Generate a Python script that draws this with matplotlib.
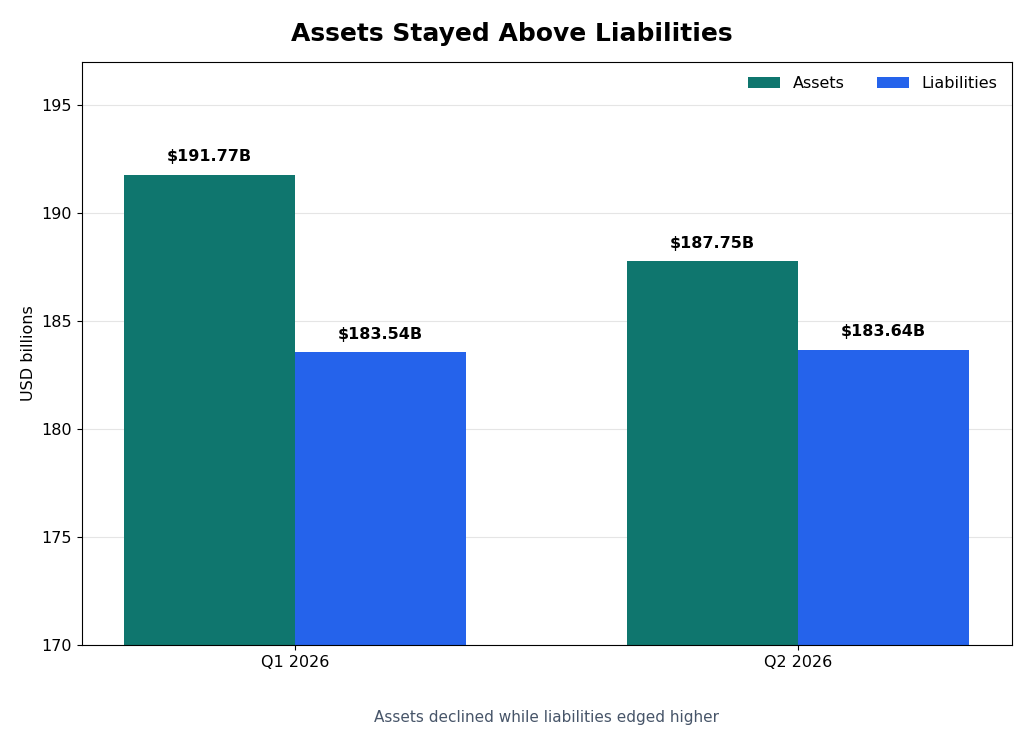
import matplotlib.pyplot as plt
import numpy as np

quarters = ["Q1 2026", "Q2 2026"]
assets = [191.77, 187.75]
liabilities = [183.54, 183.64]

fig = plt.figure(figsize=(10.24, 7.43), dpi=100)
ax = fig.add_axes([0.080, 0.132, 0.908, 0.785])

x = np.arange(len(quarters))
w = 0.34
b1 = ax.bar(x - w / 2, assets, w, color="#0F766E", label="Assets", zorder=2)
b2 = ax.bar(x + w / 2, liabilities, w, color="#2563EB", label="Liabilities", zorder=2)

for bars in (b1, b2):
    for r in bars:
        ax.text(r.get_x() + r.get_width() / 2, r.get_height() + 0.5,
                f"${r.get_height():.2f}B", ha="center", va="bottom",
                fontsize=11.5, fontweight="bold")

ax.set_ylim(170, 197)
ax.set_xlim(-0.423, 1.425)
ax.set_yticks([170, 175, 180, 185, 190, 195])
ax.set_xticks(x)
ax.set_xticklabels(quarters)
ax.tick_params(labelsize=11.5)
ax.set_ylabel("USD billions", fontsize=11.5)
ax.grid(axis="y", color="#e5e5e5", linewidth=0.8, zorder=0)
ax.set_axisbelow(True)
ax.legend(loc="upper right", frameon=False, ncol=2, fontsize=11.5)

fig.suptitle("Assets Stayed Above Liabilities", fontsize=18, fontweight="bold", y=0.97)
fig.text(0.534, 0.028, "Assets declined while liabilities edged higher",
         ha="center", fontsize=11, color="#475569")

fig.savefig("out.png", dpi=100)
